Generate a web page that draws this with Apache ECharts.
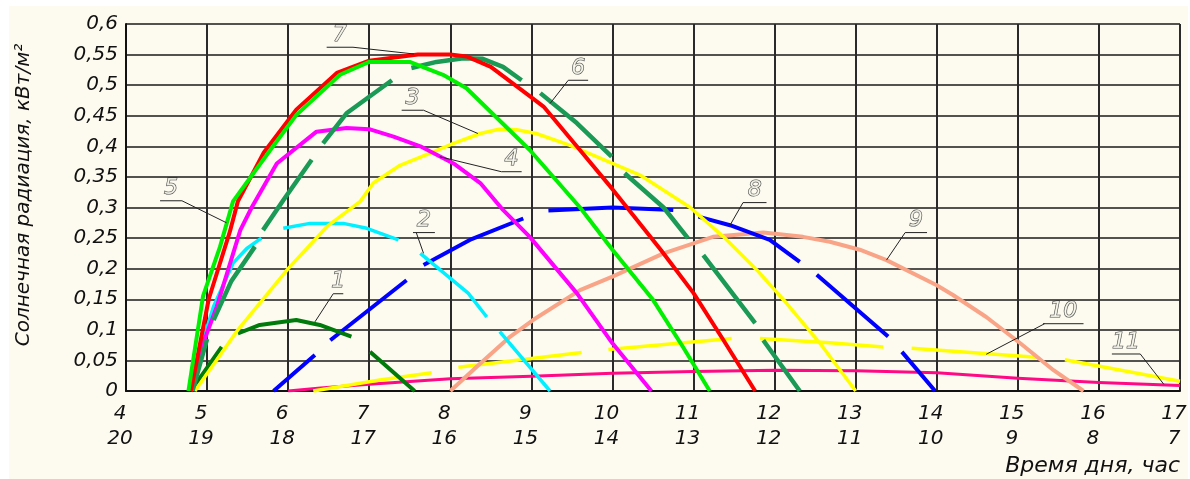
<!DOCTYPE html>
<html>
<head>
<meta charset="utf-8">
<script src="https://cdn.jsdelivr.net/npm/echarts@6/dist/echarts.min.js"></script>
<style>
  html, body { margin: 0; padding: 0; background: #ffffff; width: 1190px; height: 479px; overflow: hidden; }
  #chart { position: absolute; left: 9px; top: 6px; width: 1179px; height: 473px; }
</style>
</head>
<body>
<div id="chart"></div>
<script>
// Hour ticks: upper row is the time of day, lower row the mirrored hour (24 - h)
const hourTop = [4, 5, 6, 7, 8, 9, 10, 11, 12, 13, 14, 15, 16, 17];
const hourBottom = [20, 19, 18, 17, 16, 15, 14, 13, 12, 11, 10, 9, 8, 7];

// Solar radiation curves, kW/m² against hour. Each curve is a list of drawn pieces
// (dashed curves consist of several pieces).
const curve1 = [
  [[4.8, 0], [5.18, 0.072]],
  [[5.38, 0.094], [5.65, 0.108], [6.1, 0.116], [6.39, 0.108], [6.78, 0.089]],
  [[7.01, 0.064], [7.56, 0]]
];
const curve2 = [
  [[4.83, 0], [4.95, 0.083], [5.08, 0.138], [5.32, 0.209], [5.49, 0.233], [5.67, 0.25]],
  [[5.94, 0.266], [6.27, 0.274], [6.68, 0.274], [6.97, 0.266], [7.36, 0.247]],
  [[7.63, 0.225], [8.22, 0.16], [8.45, 0.121]],
  [[8.61, 0.097], [9.23, 0]]
];
const curve3 = [
  [[4.85, 0], [5.38, 0.1], [6.0, 0.2], [6.48, 0.269], [6.89, 0.31], [7.05, 0.34], [7.38, 0.369],
   [7.79, 0.391], [8.04, 0.405], [8.37, 0.421], [8.6, 0.428], [8.82, 0.427], [9.06, 0.421],
   [9.47, 0.402], [10.0, 0.372], [10.34, 0.353], [10.96, 0.3], [11.37, 0.252], [11.78, 0.198],
   [12.15, 0.143], [12.56, 0.078], [13.0, 0]]
];
const curve4 = [
  [[4.82, 0], [4.89, 0.056], [5.12, 0.138], [5.41, 0.263], [5.55, 0.3], [5.86, 0.372], [6.35, 0.424],
   [6.72, 0.43], [7.0, 0.428], [7.3, 0.416], [7.63, 0.4], [8.04, 0.372], [8.37, 0.34], [8.65, 0.296],
   [8.98, 0.252], [9.56, 0.16], [10.0, 0.078], [10.48, 0]]
];
const curve5 = [
  [[4.77, 0], [4.95, 0.155], [5.16, 0.236], [5.32, 0.31], [5.78, 0.394], [6.1, 0.451], [6.64, 0.517],
   [7.0, 0.538], [7.5, 0.538], [7.91, 0.517], [8.2, 0.495], [8.98, 0.394], [9.6, 0.3], [10.0, 0.231],
   [10.5, 0.149], [10.87, 0.072], [11.2, 0]]
];
const curve6 = [
  [[4.82, 0], [5.0, 0.085]],
  [[5.08, 0.116], [5.3, 0.18], [5.59, 0.236]],
  [[5.69, 0.263], [5.94, 0.312], [6.29, 0.378]],
  [[6.43, 0.405], [6.72, 0.454], [7.28, 0.508]],
  [[7.52, 0.528], [7.83, 0.538], [8.16, 0.544], [8.4, 0.543], [8.65, 0.53], [8.88, 0.508]],
  [[9.11, 0.487], [9.56, 0.438], [9.99, 0.383]],
  [[10.15, 0.356], [10.63, 0.3], [10.93, 0.25]],
  [[11.12, 0.222], [11.76, 0.111]],
  [[11.86, 0.083], [12.31, 0]]
];
const curve7 = [
  [[4.8, 0], [5.02, 0.15], [5.28, 0.26], [5.38, 0.31], [5.7, 0.39], [6.1, 0.46], [6.6, 0.52],
   [7.0, 0.54], [7.6, 0.55], [8.0, 0.55], [8.2, 0.547], [8.5, 0.53], [9.0, 0.48], [9.15, 0.465],
   [9.56, 0.4], [10.0, 0.33], [10.6, 0.23], [11.0, 0.16], [11.37, 0.083], [11.76, 0]]
];
const curve8 = [
  [[5.82, 0], [6.33, 0.059]],
  [[6.52, 0.083], [7.46, 0.181]],
  [[7.67, 0.206], [8.24, 0.247], [8.9, 0.282]],
  [[9.21, 0.295], [10.0, 0.3], [10.75, 0.296]],
  [[11.06, 0.285], [11.45, 0.271], [11.94, 0.247], [12.31, 0.211]],
  [[12.52, 0.19], [13.4, 0.089]],
  [[13.57, 0.064], [13.98, 0]]
];
const curve9 = [
  [[8.0, 0], [8.37, 0.045], [8.74, 0.089], [9.02, 0.116], [9.6, 0.165], [10.0, 0.187], [10.63, 0.225],
   [11.24, 0.252], [11.86, 0.259], [12.35, 0.252], [12.68, 0.244], [13.05, 0.231], [13.38, 0.214],
   [14.0, 0.173], [14.2, 0.157], [14.61, 0.121], [15.03, 0.078], [15.44, 0.034], [15.81, 0]]
];
const curve10 = [
  [[6.31, 0], [7.13, 0.018], [7.77, 0.03]],
  [[8.1, 0.039], [9.62, 0.063]],
  [[9.95, 0.068], [11.47, 0.086]],
  [[11.82, 0.086], [12.68, 0.079], [13.34, 0.072]],
  [[13.69, 0.07], [15.23, 0.055]],
  [[15.58, 0.051], [17.0, 0.016]]
];
const curve11 = [
  [[6.0, 0], [6.4, 0.005], [7.0, 0.011], [8.0, 0.02], [9.0, 0.024], [10.0, 0.029], [11.0, 0.032],
   [12.0, 0.034], [13.0, 0.033], [14.0, 0.03], [15.0, 0.021], [16.0, 0.014], [17.0, 0.009]]
];

// Numbered tags: underline from x0 to x1 at height y, leader from (lx, y) to the curve point
const callouts = [
  { tag: '1',  x0: 6.556, x1: 6.68,  y: 0.159,  lx: 6.556, to: [6.33, 0.113] },
  { tag: '2',  x0: 7.54,  x1: 7.81,  y: 0.259,  lx: 7.58,  to: [7.67, 0.225] },
  { tag: '3',  x0: 7.40,  x1: 7.67,  y: 0.459,  lx: 7.67,  to: [8.34, 0.421] },
  { tag: '4',  x0: 8.63,  x1: 8.88,  y: 0.3585, lx: 8.63,  to: [7.87, 0.383] },
  { tag: '5',  x0: 4.42,  x1: 4.69,  y: 0.311,  lx: 4.69,  to: [5.24, 0.275] },
  { tag: '6',  x0: 9.455, x1: 9.70,  y: 0.508,  lx: 9.455, to: [9.23, 0.47] },
  { tag: '7',  x0: 6.475, x1: 6.80,  y: 0.562,  lx: 6.80,  to: [7.55, 0.551] },
  { tag: '8',  x0: 11.61, x1: 11.90, y: 0.308,  lx: 11.61, to: [11.45, 0.271] },
  { tag: '9',  x0: 13.61, x1: 13.88, y: 0.259,  lx: 13.61, to: [13.38, 0.214] },
  { tag: '10', x0: 15.31, x1: 15.81, y: 0.11,   lx: 15.33, to: [14.61, 0.06] },
  { tag: '11', x0: 16.16, x1: 16.51, y: 0.0605, lx: 16.51, to: [16.8, 0.011] }
];

const curves = [
  { data: curve11, color: '#ff0a84', width: 3 },
  { data: curve10, color: '#ffff00', width: 3.5 },
  { data: curve9,  color: '#f9a487', width: 4 },
  { data: curve8,  color: '#0000ff', width: 4 },
  { data: curve1,  color: '#007a0a', width: 4 },
  { data: curve2,  color: '#00f0ff', width: 3.5 },
  { data: curve3,  color: '#ffff00', width: 3.5 },
  { data: curve4,  color: '#ff00ff', width: 4 },
  { data: curve6,  color: '#1a9a55', width: 4.5 },
  { data: curve7,  color: '#ff0000', width: 4 },
  { data: curve5,  color: '#00f000', width: 4 }
];

function joinPieces(pieces) {
  const out = [];
  pieces.forEach((piece, i) => {
    if (i > 0) out.push(['-', '-']);
    piece.forEach(p => out.push(p));
  });
  return out;
}

const BG = '#fdfbf0';
const labelFont = { fontFamily: 'DejaVu Sans', fontStyle: 'italic', fontSize: 20, color: '#111' };

const series = curves.map(c => ({
  type: 'line',
  data: joinPieces(c.data),
  showSymbol: false,
  symbol: 'none',
  connectNulls: false,
  smooth: false,
  silent: true,
  lineStyle: { color: c.color, width: c.width, cap: 'butt', join: 'round' },
  z: 3
}));

callouts.forEach(c => {
  series.push({
    type: 'line',
    data: [[c.x1, c.y], [c.x0, c.y], ['-', '-'], [c.lx, c.y], c.to],
    symbol: 'none',
    connectNulls: false,
    silent: true,
    lineStyle: { color: '#222', width: 1 },
    z: 5
  });
  series.push({
    type: 'scatter',
    data: [[(c.x0 + c.x1) / 2, c.y]],
    symbolSize: 0,
    silent: true,
    label: {
      show: true,
      position: 'top',
      distance: 1,
      formatter: c.tag,
      fontFamily: 'DejaVu Sans',
      fontStyle: 'italic',
      fontSize: 22,
      color: BG,
      textBorderColor: '#111',
      textBorderWidth: 1.1
    },
    z: 6
  });
});

const chart = echarts.init(document.getElementById('chart'), null, { renderer: 'canvas' });
chart.setOption({
  animation: false,
  backgroundColor: BG,
  grid: { left: 117, right: 8, top: 18, bottom: 88, containLabel: false, outerBoundsMode: 'none' },
  xAxis: {
    type: 'value',
    min: 4, max: 17, interval: 1,
    axisLine: { show: true, lineStyle: { color: '#111', width: 2 } },
    axisTick: { show: false },
    splitLine: { show: true, lineStyle: { color: '#2a2a2a', width: 2 } },
    axisLabel: Object.assign({}, labelFont, {
      margin: 10,
      lineHeight: 25,
      padding: [0, 12, 0, 0],
      showMinLabel: true,
      showMaxLabel: true,
      formatter: v => {
        const i = hourTop.indexOf(Math.round(v));
        return i < 0 ? '' : hourTop[i] + '\n' + hourBottom[i];
      }
    })
  },
  yAxis: {
    type: 'value',
    min: 0, max: 0.6, interval: 0.05,
    axisLine: { show: true, lineStyle: { color: '#111', width: 2 } },
    axisTick: { show: false },
    splitLine: { show: true, lineStyle: { color: '#1a1a1a', width: 1.5 } },
    axisLabel: Object.assign({}, labelFont, {
      margin: 8,
      formatter: v => String(Number(v.toFixed(2))).replace('.', ',')
    })
  },
  graphic: [
    {
      type: 'text',
      x: 15, y: 189,
      rotation: Math.PI / 2,
      style: {
        text: 'Солнечная радиация, кВт/м²',
        fontFamily: 'DejaVu Sans', fontStyle: 'italic', fontSize: 20,
        fill: '#111', align: 'center', verticalAlign: 'middle'
      }
    },
    {
      type: 'text',
      right: 8, bottom: 2,
      style: {
        text: 'Время дня, час',
        fontFamily: 'DejaVu Sans', fontStyle: 'italic', fontSize: 22,
        fill: '#111'
      }
    }
  ],
  series: series
});
</script>
</body>
</html>
